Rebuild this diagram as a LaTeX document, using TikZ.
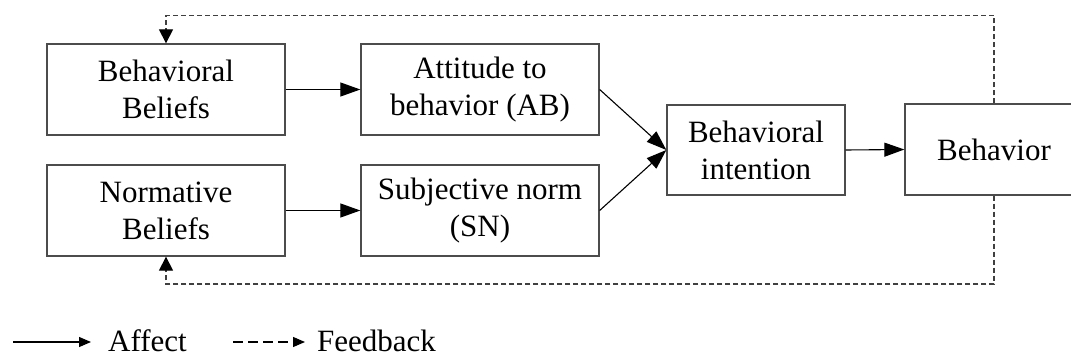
\documentclass[tikz,border=0pt]{standalone}
\usepackage{fontspec}
\setmainfont{Liberation Serif}
\usetikzlibrary{arrows.meta}
\begin{document}
\begin{tikzpicture}[x=1pt,y=-1pt,
  box/.style={draw=black!70,line width=1.3pt,fill=white,inner sep=0pt,
    minimum width=238pt,minimum height=91pt,align=center,
    font=\fontsize{31}{37}\selectfont},
  affect/.style={draw=black,line width=1.1pt,
    -{Triangle[length=20pt,width=14pt]}},
  feedback/.style={draw=black!75,line width=1.2pt,dash pattern=on 5pt off 3pt,
    -{Triangle[length=14pt,width=14pt,color=black]}},
  legendarrow/.style={draw=black,line width=1.1pt,-{Triangle[length=12pt,width=10pt]}},
  legendtext/.style={anchor=west,inner sep=0pt,font=\fontsize{31}{37}\selectfont}]
  \useasboundingbox (0,0) rectangle (1071,358);

  % boxes
  \node[box] (bb)  at (166,89.5)  {Behavioral\\Beliefs};
  \node[box] (nb)  at (166,210.5) {Normative\\Beliefs};
  \node[box] (ab)  at (480,89.5)  {Attitude to\\behavior (AB)};
  \node[box] (sn)  at (480,210.5) {Subjective norm\\(SN)};
  \node[box,minimum width=178pt,minimum height=90pt] (bi) at (756,150) {Behavioral\\intention};
  \node[box,minimum width=178pt] (beh) at (994,149.5) {Behavior};

  % direct effects
  \draw[affect] (bb.east) -- (ab.west);
  \draw[affect] (nb.east) -- (sn.west);
  \draw[affect] (ab.east) -- (bi.west);
  \draw[affect] (sn.east) -- (bi.west);
  \draw[affect] (bi.east) -- (beh.west);

  % feedback loops
  \coordinate (ftop) at (0,15.7);
  \coordinate (fbot) at (0,284);
  \draw[feedback] (beh.north) -- (beh.north |- ftop) -| (bb.north);
  \draw[feedback] (beh.south) -- (beh.south |- fbot) -| (nb.south);

  % legend
  \coordinate (la) at (13,342);
  \coordinate (lb) at (233,342);
  \node[legendtext] (affl) at (108,341) {Affect};
  \node[legendtext] (fbl)  at (317,341) {Feedback};
  \draw[legendarrow] (la) -- (la -| affl.west) [shorten >=17pt];
  \draw[legendarrow,dash pattern=on 10pt off 5pt] (lb) -- (lb -| fbl.west) [shorten >=12pt];
\end{tikzpicture}
\end{document}
